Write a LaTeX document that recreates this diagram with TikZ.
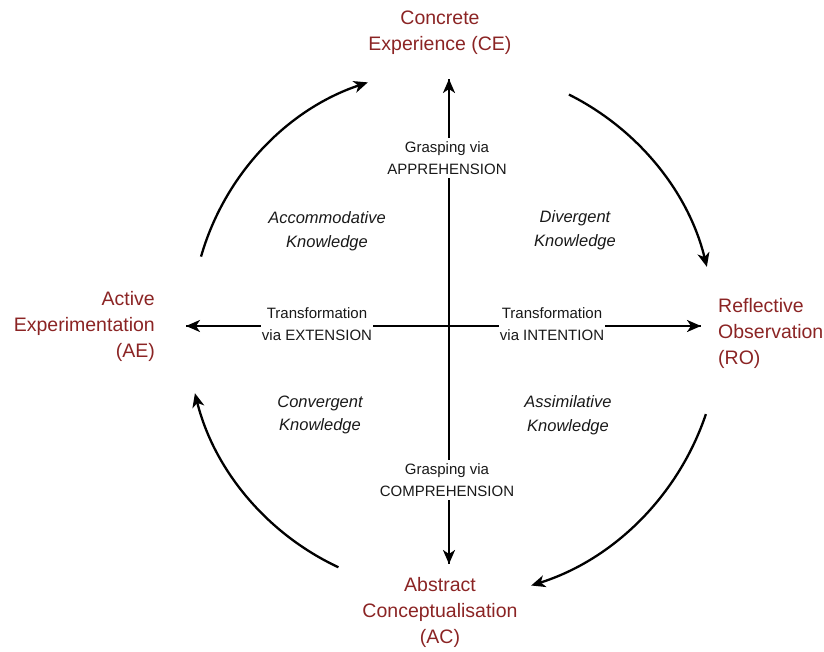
\documentclass[tikz,border=0pt]{standalone}
\usepackage{fontspec}
\setmainfont{Liberation Sans}
\usetikzlibrary{arrows.meta}
\definecolor{kred}{RGB}{139,36,36}
\definecolor{kink}{RGB}{25,25,25}
\tikzset{
  stage/.style={text=kred, font=\fontsize{19.5}{26}\selectfont, inner sep=0pt},
  know/.style={text=kink, font=\itshape\fontsize{16.5}{23.5}\selectfont, align=center, inner sep=0pt},
  axislabel/.style={text=kink, font=\fontsize{15}{22}\selectfont, align=center, fill=white, inner xsep=1pt, inner ysep=3pt},
  arr/.style={line width=2.3pt, -{Stealth[length=14pt,width=12pt,inset=4pt]}},
  axis/.style={line width=2.3pt},
}
\begin{document}
\begin{tikzpicture}[x=1pt,y=1pt]
\useasboundingbox (0,0) rectangle (824,-652);
% centre
\coordinate (O) at (449,-326);
\coordinate (C) at (450,-328);
% stage labels
\node[stage, align=center] (CE) at (440,-33) {Concrete\\Experience (CE)};
\node[stage, align=right, anchor=east] (AE) at (155,-326) {Active\\Experimentation\\(AE)};
\node[stage, align=left, anchor=west] (RO) at (718,-333) {Reflective\\Observation\\(RO)};
\node[stage, align=center] (AC) at (440,-612) {Abstract\\Conceptualisation\\(AC)};
% axis tips
\coordinate (tipN) at (449,-79);
\coordinate (tipS) at (449,-564);
\coordinate (tipW) at (186,-326);
\coordinate (tipE) at (701,-326);
% axes
\draw[axis] (O) -- (tipN);
\draw[axis] (O) -- (tipS);
\draw[axis] (O) -- (tipW);
\draw[axis] (O) -- (tipE);
\draw[arr] ([yshift=-20pt]tipN) -- (tipN);
\draw[arr] ([yshift=20pt]tipS) -- (tipS);
\draw[arr] ([xshift=20pt]tipW) -- (tipW);
\draw[arr] ([xshift=-20pt]tipE) -- (tipE);
% axis labels
\node[axislabel] (app) at (447,-158) {Grasping via\\APPREHENSION};
\node[axislabel] (comp) at (447,-480) {Grasping via\\COMPREHENSION};
\node[axislabel] (ext) at (317,-324) {Transformation\\via EXTENSION};
\node[axislabel] (int) at (552,-324) {Transformation\\via INTENTION};
% knowledge labels
\node[know] (acc) at (327,-231) {Accommodative\\Knowledge};
\node[know] (div) at (575,-230) {Divergent\\Knowledge};
\node[know] (con) at (320,-415) {Convergent\\Knowledge};
\node[know] (ass) at (568,-415) {Assimilative\\Knowledge};
% cycle arrows
\draw[arr] ([shift={(164:259)}]C) arc[start angle=164, end angle=108.5, radius=259];
\draw[arr] ([shift={(63:262)}]C) arc[start angle=63, end angle=13.5, x radius=266, y radius=262];
\draw[arr] ([shift={(-18.6:270)}]C) arc[start angle=-18.6, end angle=-72.5, radius=270];
\draw[arr] ([shift={(245:264)}]C) arc[start angle=245, end angle=194, radius=262];
\end{tikzpicture}
\end{document}
